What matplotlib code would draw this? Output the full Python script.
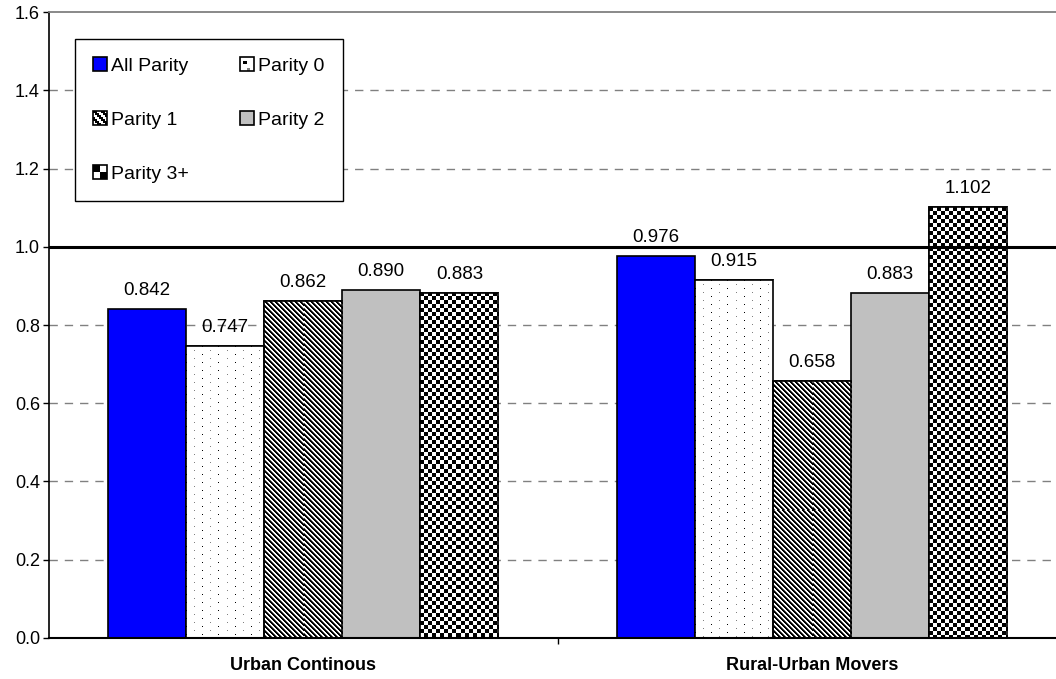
import numpy as np
import matplotlib.pyplot as plt
from matplotlib.patches import Patch, Rectangle
from matplotlib.legend_handler import HandlerBase

plt.rcParams['font.family'] = ['Liberation Sans', 'DejaVu Sans']

## Data
groups = ["Urban Continous", "Rural-Urban Movers"]
series = ["All Parity", "Parity 0", "Parity 1", "Parity 2", "Parity 3+"]
all_parity = [0.842, 0.976]
parity0 = [0.747, 0.915]
parity1 = [0.862, 0.658]
parity2 = [0.890, 0.883]
parity3 = [0.883, 1.102]
values = dict(zip(series, [all_parity, parity0, parity1, parity2, parity3]))
yticks = [0.0, 0.2, 0.4, 0.6, 0.8, 1.0, 1.2, 1.4, 1.6]

DPI = 100
W, H = 1056, 679


## Fill patterns, built pixel by pixel (0 = black, 1 = white)
def dots(h, w):
    p = np.ones((h, w))
    p[0::8, 0::16] = 0.0
    p[4::8, 8::16] = 0.5
    return p


def diagonal(h, w):
    r, c = np.indices((h, w))
    k = (c - r) % 5
    return np.choose(k, [0.0, 0.0, 0.35, 1.0, 1.0])


def checker(h, w):
    r, c = np.indices((h, w))
    return ((r // 4 + c // 4) % 2).astype(float)


fills = {
    "All Parity": ("#0000ff", None),
    "Parity 0": ("white", dots),
    "Parity 1": ("white", diagonal),
    "Parity 2": ("#c0c0c0", None),
    "Parity 3+": ("white", checker),
}

# small cells used for the legend keys
_r, _c = np.indices((7, 7))
key_cells = {
    "Parity 0": np.array([[1, 1, 1, 1], [1, 0, 1, 1], [1, 1, 1, 1], [1, 1, 0.5, 1]], float),
    "Parity 1": np.where((_c - _r) % 4 < 2, 0.0, 1.0),
    "Parity 3+": ((_r[:4, :4] // 2 + _c[:4, :4] // 2) % 2).astype(float),
}


class PatternHandler(HandlerBase):
    def __init__(self, face, cells=None):
        super().__init__()
        self.face = face
        self.cells = cells

    def create_artists(self, legend, orig_handle, xdescent, ydescent,
                       width, height, fontsize, trans):
        side = min(width, height)
        x0 = -xdescent
        y0 = -ydescent + (height - side) / 2
        arts = [Rectangle((x0, y0), side, side, facecolor=self.face,
                          edgecolor="none", transform=trans)]
        if self.cells is not None:
            n = self.cells.shape[0]
            s = side / n
            for r in range(n):
                for c in range(n):
                    v = self.cells[r, c]
                    if v < 1:
                        arts.append(Rectangle((x0 + c * s, y0 + side - (r + 1) * s), s, s,
                                              facecolor=str(v), edgecolor="none",
                                              transform=trans))
        arts.append(Rectangle((x0, y0), side, side, fill=False, edgecolor="black",
                              linewidth=1.2, transform=trans))
        return arts


fig = plt.figure(figsize=(W / DPI, H / DPI), dpi=DPI)
ax_left, ax_bottom, ax_w, ax_h = 49, 637.7, 1017, 625.4
ax = fig.add_axes([ax_left / W, 1 - ax_bottom / H, ax_w / W, ax_h / H])

x = np.arange(len(groups))
width = 0.1535
offsets = (np.arange(len(series)) - 2) * width
px_per_x = ax_w / 2.0
px_per_y = ax_h / 1.6

for s, off in zip(series, offsets):
    face, pattern = fills[s]
    bars = ax.bar(x + off, values[s], width, facecolor=face, edgecolor="black",
                  linewidth=1.2, zorder=3)
    for b, v in zip(bars, values[s]):
        x0 = b.get_x()
        if pattern is not None:
            hpx = int(round(v * px_per_y))
            wpx = int(round(width * px_per_x))
            img = ax.imshow(pattern(hpx, wpx), cmap="gray", vmin=0, vmax=1,
                            interpolation="nearest", aspect="auto", origin="upper",
                            extent=[x0, x0 + width, 0, v], zorder=3.5)
            img.set_clip_path(b)
            ax.add_patch(Rectangle((x0, 0), width, v, fill=False, edgecolor="black",
                                   linewidth=1.2, zorder=4))
        ax.annotate(f"{v:.3f}", (x0 + width / 2, v), xytext=(0, 7),
                    textcoords="offset points", ha="center", va="bottom", fontsize=13.5)

## Axes, ticks and gridlines
ax.set_xlim(-0.5, 1.5)
ax.set_ylim(0, 1.6)
ax.set_yticks(yticks)
ax.set_yticklabels([f"{t:.1f}" for t in yticks], fontsize=13)
ax.tick_params(axis="y", length=4.5, width=1, direction="out", pad=2)
ax.set_xticks(x)
ax.set_xticklabels(groups, fontsize=13, fontweight="bold")
ax.tick_params(axis="x", which="major", length=0, pad=14)
ax.set_xticks([0.5], minor=True)
ax.tick_params(axis="x", which="minor", length=4.5, width=1, direction="out")

for t in yticks[1:-1]:
    if t == 1.0:
        ax.axhline(t, color="black", linewidth=2.2, zorder=5)
    else:
        ax.axhline(t, color="#808080", linewidth=1.0, linestyle=(0, (6, 5)), zorder=1)

ax.spines["right"].set_visible(False)
ax.spines["top"].set_color("#808080")
ax.spines["top"].set_linewidth(1.3)
ax.spines["left"].set_linewidth(1.2)
ax.spines["bottom"].set_linewidth(1.5)
ax.spines["bottom"].set_zorder(4.5)

## Legend
handles = {s: Patch(facecolor=fills[s][0], label=s) for s in series}
hmap = {handles[s]: PatternHandler(fills[s][0], key_cells.get(s)) for s in series}
order = ["All Parity", "Parity 1", "Parity 3+", "Parity 0", "Parity 2"]
leg = fig.legend([handles[s] for s in order], order, handler_map=hmap, ncol=2,
                 loc="upper left", bbox_to_anchor=(75 / W, 1 - 39 / H),
                 bbox_transform=fig.transFigure, borderaxespad=0, fontsize=14,
                 frameon=True, fancybox=False, edgecolor="black", framealpha=1,
                 handlelength=0.72, handleheight=0.72, handletextpad=0.2,
                 columnspacing=2.6, labelspacing=1.85, borderpad=0.95)
leg.get_frame().set_linewidth(1.0)
leg.set_zorder(6)

fig.savefig("out.png", dpi=DPI)
